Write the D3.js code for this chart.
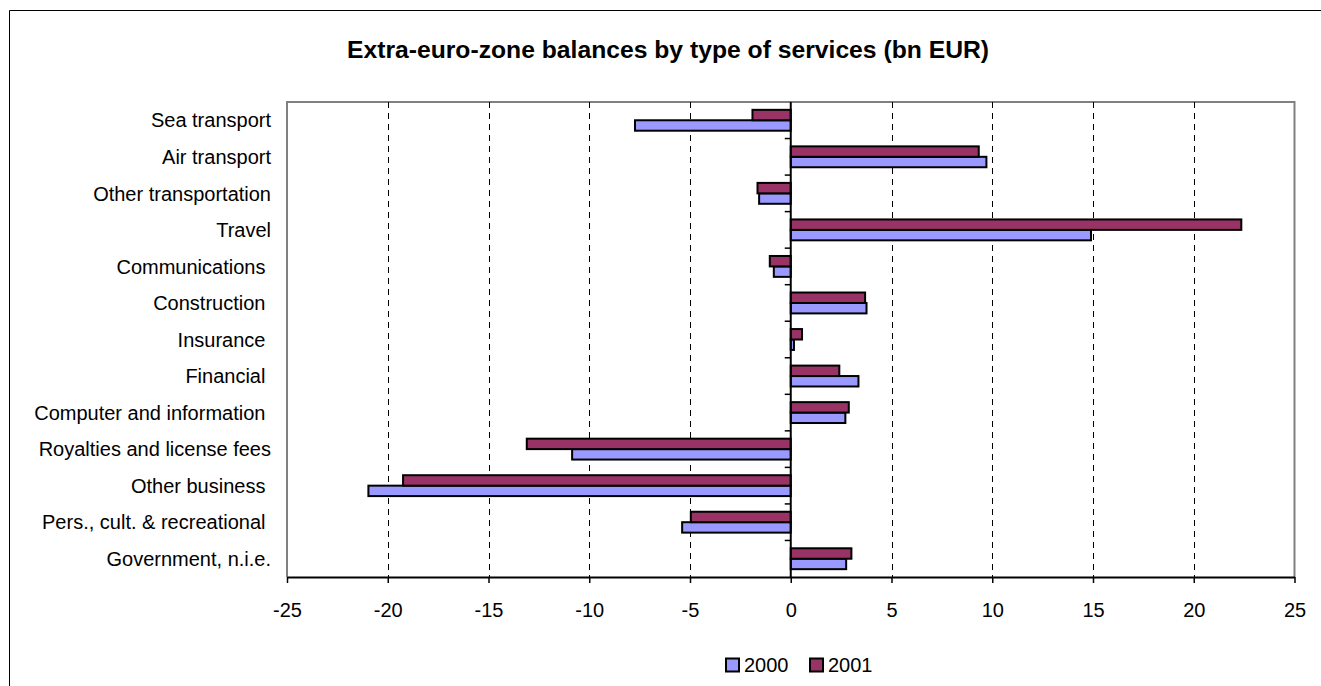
<!DOCTYPE html>
<html>
<head>
<meta charset="utf-8">
<script src="https://cdn.jsdelivr.net/npm/d3@7"></script>
<style>
  body { margin: 0; background: #fff; overflow: hidden; }
  svg { display: block; }
  svg text { font-family: "Liberation Sans", Arial, sans-serif; }
</style>
</head>
<body>
<svg id="drawing_region"></svg>
<script>
// data (bn EUR)
const categories = [
    "Sea transport", "Air transport", "Other transportation", "Travel",
    "Communications ", "Construction ", "Insurance ", "Financial ",
    "Computer and information ", "Royalties and license fees", "Other business ",
    "Pers., cult. & recreational ", "Government, n.i.e."
];
const series = ["2000", "2001"];
const values2000 = [-7.73, 9.71, -1.57, 14.9, -0.84, 3.76, 0.16, 3.36, 2.71, -10.85, -20.96, -5.39, 2.75];
const values2001 = [-1.9, 9.33, -1.65, 22.36, -1.04, 3.69, 0.56, 2.41, 2.88, -13.1, -19.24, -4.96, 3.01];
const xTicks = [-25, -20, -15, -10, -5, 0, 5, 10, 15, 20, 25];
const colors = { "2000": "#9999ff", "2001": "#993366" };

const W = 1321, H = 686;
const margin = { top: 102, right: 26.5, bottom: 109, left: 287 };

const svg = d3.select('#drawing_region')
    .attr('width', W)
    .attr('height', H);

// outer chart frame: only the left and top edges fall inside the window
svg.append('path')
    .attr('d', `M9.5,${H}V10.5H${W}`)
    .attr('fill', 'none').attr('stroke', '#000').attr('stroke-width', 1);

svg.append('text')
    .attr('x', 668).attr('y', 58)
    .attr('text-anchor', 'middle')
    .attr('font-size', '24.7px')
    .attr('font-weight', 'bold')
    .text('Extra-euro-zone balances by type of services (bn EUR)');

const x = d3.scaleLinear()
    .domain([-25, 25])
    .range([margin.left, W - margin.right]);

const y = d3.scaleBand()
    .domain(categories)
    .range([margin.top, H - margin.bottom])
    .paddingInner(0).paddingOuter(0);

// Excel gap width 150% -> 1.5 bar heights of space per group
const ySub = d3.scaleBand()
    .domain(["2001", "2000"])
    .range([0, y.bandwidth()])
    .paddingInner(0).paddingOuter(0.75);

const plotTop = margin.top, plotBottom = H - margin.bottom;

// plot area border (grey)
svg.append('path')
    .attr('d', `M${x(-25)},${plotBottom}V${plotTop}H${x(25)}V${plotBottom}`)
    .attr('fill', 'none').attr('stroke', '#808080').attr('stroke-width', 2);

// dashed gridlines
svg.append('g')
    .selectAll('line')
    .data(xTicks.filter(d => d !== 0 && d !== -25 && d !== 25))
    .join('line')
    .attr('x1', d => Math.round(x(d)) + 0.5).attr('x2', d => Math.round(x(d)) + 0.5)
    .attr('y1', plotTop).attr('y2', plotBottom)
    .attr('stroke', '#000').attr('stroke-width', 1)
    .attr('stroke-dasharray', '6,5');

// bars
const rows = categories.map((c, i) => ({ cat: c, "2000": values2000[i], "2001": values2001[i] }));

const groups = svg.append('g')
    .selectAll('g')
    .data(rows)
    .join('g')
    .attr('transform', d => `translate(0,${y(d.cat)})`);

groups.selectAll('rect')
    .data(d => series.map(s => ({ s: s, v: d[s] })))
    .join('rect')
    .attr('x', d => x(Math.min(0, d.v)))
    .attr('y', d => ySub(d.s))
    .attr('width', d => Math.abs(x(d.v) - x(0)))
    .attr('height', ySub.bandwidth())
    .attr('fill', d => colors[d.s])
    .attr('stroke', '#000')
    .attr('stroke-width', 2);

// bottom axis
const xAxis = svg.append('g')
    .attr('transform', `translate(0,${plotBottom})`)
    .call(d3.axisBottom(x).tickValues(xTicks).tickSize(6).tickSizeOuter(0).tickPadding(20).tickFormat(d3.format('d')));
xAxis.select('.domain').attr('stroke', '#000').attr('stroke-width', 2);
xAxis.selectAll('.tick line').attr('stroke', '#000').attr('stroke-width', 1.5);
xAxis.selectAll('.tick text')
    .attr('font-size', '20px')
    .attr('fill', '#000')
    .text(d => d < 0 ? '-' + Math.abs(d) : d);

// category axis at zero
const yAxis = svg.append('g')
    .attr('transform', `translate(${x(0)},0)`);
yAxis.append('line')
    .attr('y1', plotTop).attr('y2', plotBottom)
    .attr('stroke', '#000').attr('stroke-width', 2);
yAxis.selectAll('.cat-tick')
    .data(categories.slice(1))
    .join('line')
    .attr('class', 'cat-tick')
    .attr('x1', -6).attr('x2', 0)
    .attr('y1', d => y(d)).attr('y2', d => y(d))
    .attr('stroke', '#000').attr('stroke-width', 1.5);

// category labels
svg.append('g')
    .selectAll('text')
    .data(categories)
    .join('text')
    .attr('x', 271)
    .attr('y', d => y(d) + y.bandwidth() / 2)
    .attr('dy', '0.36em')
    .attr('text-anchor', 'end')
    .attr('font-size', '20px')
    .style('white-space', 'pre')
    .text(d => d);

// legend
const legend = svg.append('g')
    .attr('transform', 'translate(726,665)');
const li = legend.selectAll('g')
    .data(series)
    .join('g')
    .attr('transform', (d, i) => `translate(${i * 84},0)`);
li.append('rect')
    .attr('x', 0).attr('y', -6.5)
    .attr('width', 13).attr('height', 13)
    .attr('fill', d => colors[d])
    .attr('stroke', '#000').attr('stroke-width', 2);
li.append('text')
    .attr('x', 18).attr('y', 0)
    .attr('dy', '0.36em')
    .attr('font-size', '20px')
    .text(d => d);
</script>
</body>
</html>
